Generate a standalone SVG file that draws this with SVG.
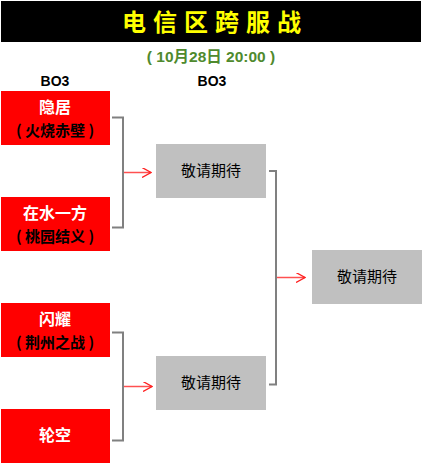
<svg xmlns="http://www.w3.org/2000/svg" width="424" height="465" viewBox="0 0 424 465">
<defs>
<style>
.title{font-family:"Noto Sans CJK SC",sans-serif;font-weight:bold;font-size:24px;fill:#FFFF00;letter-spacing:7px}
.sub{font-family:"Liberation Sans","Noto Sans CJK SC",sans-serif;font-weight:bold;font-size:15.5px;fill:#4F8A2E}
.bo{font-family:"Liberation Sans",sans-serif;font-weight:bold;font-size:14px;fill:#000}
.team{fill:#FF0000}
.tbd{fill:#C0C0C0}
.w{font-family:"Noto Sans CJK SC",sans-serif;font-size:16px;fill:#fff;font-weight:bold}
.b{font-family:"Noto Sans CJK SC",sans-serif;font-size:15px;fill:#000;font-weight:bold}
.g{font-family:"Noto Sans CJK SC",sans-serif;font-size:15px;fill:#000}
.br{fill:none;stroke:#808080;stroke-width:2}
.ar{fill:none;stroke:#FF5050;stroke-width:1.5}
</style>
<marker id="ah" viewBox="0 0 10 10" refX="9" refY="5" markerWidth="10" markerHeight="10" markerUnits="userSpaceOnUse" orient="auto">
<path d="M0,0 L9,5 L0,10" fill="none" stroke="#FF2020" stroke-width="1.3"/>
</marker>
</defs>
<rect x="0" y="0" width="424" height="465" fill="#fff"/>
<g id="header">
<rect x="1" y="1" width="420" height="41" fill="#000"/>
<text class="title" x="215" y="31" text-anchor="middle">电信区跨服战</text>
<text class="sub" x="211" y="62" text-anchor="middle">( 10月28日 20:00 )</text>
<text class="bo" x="55" y="86" text-anchor="middle">BO3</text>
<text class="bo" x="212" y="86" text-anchor="middle">BO3</text>
</g>
<g id="team1">
<rect class="team" x="1" y="91" width="109" height="54"/>
<text class="w" x="55" y="113" text-anchor="middle">隐居</text>
<text class="b" x="55" y="136" text-anchor="middle">( 火烧赤壁 )</text>
</g>
<g id="team2">
<rect class="team" x="1" y="197" width="109" height="54"/>
<text class="w" x="55" y="219" text-anchor="middle">在水一方</text>
<text class="b" x="55" y="242" text-anchor="middle">( 桃园结义 )</text>
</g>
<g id="team3">
<rect class="team" x="1" y="303" width="109" height="54"/>
<text class="w" x="55" y="325" text-anchor="middle">闪耀</text>
<text class="b" x="55" y="348" text-anchor="middle">( 荆州之战 )</text>
</g>
<g id="team4">
<rect class="team" x="1" y="409" width="109" height="54"/>
<text class="w" x="55" y="441" text-anchor="middle">轮空</text>
</g>
<g id="semi1">
<rect class="tbd" x="156" y="144" width="110" height="54"/>
<text class="g" x="211" y="176" text-anchor="middle">敬请期待</text>
</g>
<g id="semi2">
<rect class="tbd" x="156" y="356" width="110" height="54"/>
<text class="g" x="211" y="388" text-anchor="middle">敬请期待</text>
</g>
<g id="final">
<rect class="tbd" x="312" y="250" width="110" height="54"/>
<text class="g" x="367" y="282" text-anchor="middle">敬请期待</text>
</g>
<g id="connectors">
<path class="br" d="M112,117.5 H123 V227.5 H112"/>
<path class="br" d="M112,332.5 H123 V440.5 H112"/>
<path class="br" d="M269,171 H276 V384.5 H269"/>
<line class="ar" x1="124" y1="172.5" x2="151" y2="172.5" marker-end="url(#ah)"/>
<line class="ar" x1="124" y1="386.5" x2="152" y2="386.5" marker-end="url(#ah)"/>
<line class="ar" x1="277" y1="277.5" x2="305" y2="277.5" marker-end="url(#ah)"/>
</g>
</svg>
